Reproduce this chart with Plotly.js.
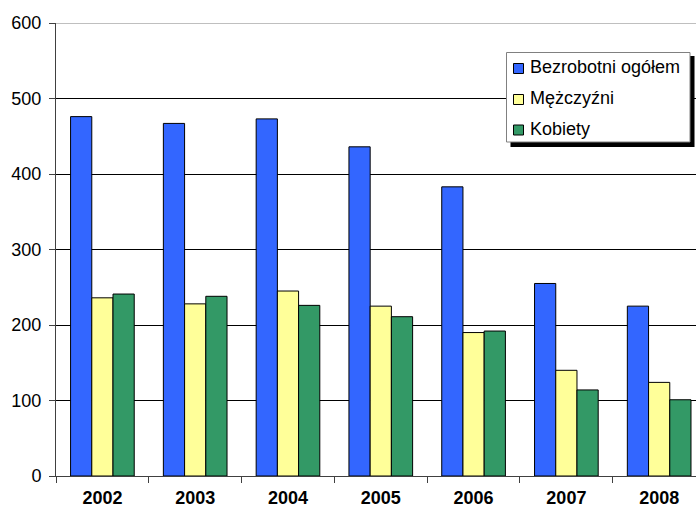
<!DOCTYPE html>
<html>
<head>
<meta charset="utf-8">
<script src="https://cdn.plot.ly/plotly-3.0.1.min.js"></script>
<style>html,body{margin:0;padding:0;background:#fff;}#chart{width:696px;height:508px;}</style>
</head>
<body>
<div id="chart"></div>
<script>
const years = ['2002', '2003', '2004', '2005', '2006', '2007', '2008'];
const seriesNames = ['Bezrobotni ogółem', 'Mężczyźni', 'Kobiety'];
const ogolem = [476, 467, 473, 436, 383, 255, 225];
const mezczyzni = [236, 228, 245, 225, 190, 140, 124];
const kobiety = [241, 238, 226, 211, 192, 114, 101];
const yTicks = [0, 100, 200, 300, 400, 500, 600];

const colors = ['#3366FF', '#FFFF99', '#339966'];
const FONT = '"Liberation Sans", Arial, sans-serif';

const L = 56, R = 696, T = 23, B = 476;
const px = x => (x - L) / (R - L);
const py = y => (B - y) / (B - T);

const traces = [ogolem, mezczyzni, kobiety].map((vals, i) => ({
  type: 'bar',
  x: years,
  y: vals,
  name: seriesNames[i],
  marker: {color: colors[i], line: {color: '#000000', width: 1}},
  showlegend: false,
  hoverinfo: 'x+y+name'
}));

// manual legend (Excel-like with shadow)
const shapes = [
  {type: 'line', xref: 'paper', yref: 'y', x0: 0, x1: 1, y0: 600, y1: 600,
   line: {color: '#808080', width: 1}, layer: 'above'},
  {type: 'rect', xref: 'paper', yref: 'paper', x0: px(510.5), x1: px(694.5), y0: py(56), y1: py(147),
   fillcolor: '#000000', line: {width: 0}, layer: 'above'},
  {type: 'rect', xref: 'paper', yref: 'paper', x0: px(506.5), x1: px(690), y0: py(52.5), y1: py(142),
   fillcolor: '#FFFFFF', line: {color: '#808080', width: 1}, layer: 'above'}
];
const rowY = [68.5, 99.5, 130];
const annotations = [];
seriesNames.forEach((n, i) => {
  shapes.push({type: 'rect', xref: 'paper', yref: 'paper',
    x0: px(513.5), x1: px(523.5), y0: py(rowY[i] - 5), y1: py(rowY[i] + 5),
    fillcolor: colors[i], line: {color: '#000000', width: 1}, layer: 'above'});
  annotations.push({xref: 'paper', yref: 'paper', x: px(528), y: py(rowY[i] - 1.5),
    xanchor: 'left', yanchor: 'middle', text: n, showarrow: false,
    font: {family: FONT, size: 18, color: '#000000'}});
});

const layout = {
  width: 696, height: 508,
  margin: {l: L, r: 0, t: T, b: 508 - B, pad: 0},
  paper_bgcolor: '#FFFFFF', plot_bgcolor: '#FFFFFF',
  barmode: 'group', bargap: 0.314, bargroupgap: 0,
  font: {family: FONT, size: 18, color: '#000000'},
  xaxis: {
    type: 'category', range: [-0.5, 6.397],
    showgrid: false, zeroline: false,
    showline: true, linecolor: '#404040', linewidth: 1,
    ticks: 'outside', tickson: 'boundaries', ticklen: 6, tickcolor: '#404040',
    tickfont: {family: FONT, size: 18, color: '#000000', weight: 'bold'},
    ticklabelstandoff: 5
  },
  yaxis: {
    range: [0, 600], tickvals: yTicks, ticktext: yTicks.map(String),
    showgrid: true, gridcolor: '#000000', gridwidth: 1,
    zeroline: false, showline: true, linecolor: '#404040', linewidth: 1,
    ticks: 'outside', ticklen: 6, tickcolor: '#404040',
    tickfont: {family: FONT, size: 18, color: '#000000'},
    ticklabelstandoff: 4
  },
  shapes: shapes,
  annotations: annotations,
  showlegend: false
};

Plotly.newPlot('chart', traces, layout, {displayModeBar: false, staticPlot: true});
</script>
</body>
</html>
